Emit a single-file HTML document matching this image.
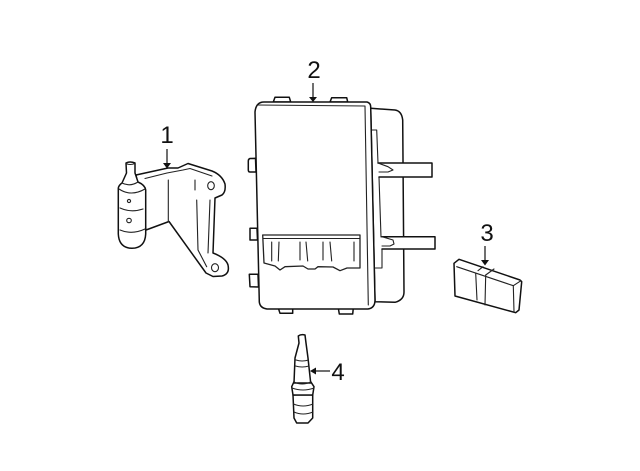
<!DOCTYPE html>
<html>
<head>
<meta charset="utf-8">
<style>
html,body{margin:0;padding:0;background:#fff;width:640px;height:471px;overflow:hidden}
svg{display:block}
text{font-family:"Liberation Sans",sans-serif;font-size:24px;fill:#111}
.o{fill:#fff;stroke:#111;stroke-width:1.5;stroke-linejoin:round;stroke-linecap:round}
.l{fill:none;stroke:#222;stroke-width:1.1;stroke-linejoin:round;stroke-linecap:round}
.a{fill:none;stroke:#111;stroke-width:1.2}
.h{fill:#111;stroke:none}
</style>
</head>
<body>
<svg width="640" height="471" viewBox="0 0 640 471" xmlns="http://www.w3.org/2000/svg">
<text x="167" y="143" text-anchor="middle">1</text>
<text x="314" y="78" text-anchor="middle">2</text>
<text x="487" y="241" text-anchor="middle">3</text>
<text x="338" y="380" text-anchor="middle">4</text>

<!-- Part 1: bracket -->
<path class="o" d="M136 175 L168 168 L178 168 L188 163.500 L212 171 Q222 175 225 184 Q226 192 222 195 L215 198 L213 253 Q226 258 228 265 Q230 274 222 276 L213 276.500 L206 273 L169 221.500 L146 230 Z"/>
<path class="l" d="M168.300 180 V221.500"/>
<path class="l" d="M145 178.500 L167 173 L183 170 L190 168.500 L212 176"/>
<path class="l" d="M195 180 V190"/>
<path class="l" d="M196.700 200 L198 250 L206.700 266.700"/>
<path class="l" d="M210 200 L208 253"/>
<ellipse class="l" cx="211" cy="185.700" rx="3.300" ry="4"/>
<ellipse class="l" cx="215" cy="267.700" rx="3.500" ry="4"/>
<path class="o" d="M118.300 188 Q119 185 122 183 L126.500 173 L126 163 Q130 161 135 163 L135 173 L138 182 Q145 185 145.700 190 L145.700 234 Q145 248 132 248.300 Q119 248 118.300 234 Z"/>
<path class="l" d="M126 163.500 Q130 165.500 135 163.500"/>
<path class="l" d="M122 183 Q130 187 138 182"/>
<path class="l" d="M119 189 Q131 197 145 189"/>
<path class="l" d="M120 208 Q131 213 143 209"/>
<path class="l" d="M120 230 Q132 235 145 229"/>
<circle class="l" cx="129" cy="201" r="1.600"/>
<ellipse class="l" cx="129" cy="220.500" rx="2.300" ry="2.200"/>
<path class="a" d="M167 149 V165"/>
<path class="h" d="M163 163 L171 163 L167 168.500 Z"/>

<!-- Part 2: module, rear housing -->
<path class="o" d="M370.700 108.300 L395 110 Q401.700 111 402.700 120 L404 292 Q404 300 395 302.300 L375 301.700 Z"/>
<!-- straps -->
<path class="l" d="M371.700 130 L376.700 130 L378 163 M379 177 L381 237 M382 249 L382 268 L373 268"/>
<path class="o" d="M378 163 L432 163 V177 L379 177"/>
<path class="o" d="M382 236.700 L435 236.700 V249 L382 249"/>
<path class="l" d="M378 163 L388 166.700 L393 170 L388 172 L379 172"/>
<path class="l" d="M382 236.700 L393 240 L394 244 L390 246 L382 246"/>
<!-- tabs -->
<path class="o" d="M273.300 102 L275 97.300 L289.300 97.300 L290.700 102 Z"/>
<path class="o" d="M330 102 L331.700 97.700 L346.700 97.700 L347.700 102 Z"/>
<path class="o" d="M255.500 158.300 L250 158.500 Q248.300 159 248.300 161 L248.300 170 Q248.300 172 250 172 L256 172 Z"/>
<path class="o" d="M257 228.300 L250 228.300 L250 240 L257.500 240 Z"/>
<path class="o" d="M258 274.300 L249.300 274.300 L250 286.700 L258.500 287 Z"/>
<path class="o" d="M278.300 308 L280 313.300 L292.700 313.300 L292.700 308 Z"/>
<path class="o" d="M338.300 308 L339.300 314 L352.700 314 L353.300 308 Z"/>
<!-- main body -->
<path class="o" d="M255 112 Q256 102 264 102 L367 102 Q370.700 103 370.700 107 L375 300 Q375 308 368 309 L267 309 Q260 308 259.300 302 Z"/>
<path class="l" d="M257 105 L365 106 L368.300 305"/>
<!-- connector window -->
<path class="l" style="stroke-width:1.300" d="M262.700 235 L360 235 L360 268 L347 268 L340 270.700 L333 267 L318 266.700 L315 269 L308 269 L303 266 L285 266.700 L280 270 L275 266 L264 263 Z"/>
<path class="l" d="M263 238.500 L359.500 238.500"/>
<path class="l" d="M271.700 242 V261 M279 242 L278.300 261 M300 242 V260 M306 242 L307.700 261 M323 242 V260 M330 242 L331.700 261 M354 242 V261"/>
<path class="a" d="M313 83 V99"/>
<path class="h" d="M309 97 L317 97 L313 102 Z"/>

<!-- Part 3: block -->
<path class="o" d="M454 263.300 L459 259.300 L520 280 L521.700 281.700 L519 310 L515.700 312.700 L455 296 Z"/>
<path class="l" d="M456.700 266.700 L513.300 285.700 L521 280.700"/>
<path class="l" d="M513.300 285.700 L514 311.700"/>
<path class="l" d="M478 270.700 L483 266.700 M485.700 275 L494 269"/>
<path class="l" d="M475.700 273.300 L477 300 M485.700 275 L485 305"/>
<path class="a" d="M485 246 V262"/>
<path class="h" d="M481 260 L489 260 L485 265.500 Z"/>

<!-- Part 4: spark plug -->
<path class="o" d="M293 395 L294 418 L296.700 423 L308 423 L312.700 418 L312.700 395 Z"/>
<path class="o" d="M294 381.700 L291.700 386.700 L293 395 L312.700 395 L314 386.700 L310.700 381.700 Z"/>
<path class="o" d="M294 383 L295 358 L299 343 L298.300 336 Q301 334 305 335 L306 343 L308 358 L310.700 383 Z"/>
<path class="l" d="M296 360 Q302 362 308.500 360 M295.500 366 Q302 368 309 366 M294 382 Q302 386 310.700 382 M292 388 Q303 392 314 388 M296 395 L311 395"/>
<path class="l" d="M293.500 404 Q303 408 313 404 M294 412 Q303 416 313 412"/>
<path class="a" d="M314 371 H330"/>
<path class="h" d="M310 371 L316 367.500 L316 374.500 Z"/>
</svg>
</body>
</html>
